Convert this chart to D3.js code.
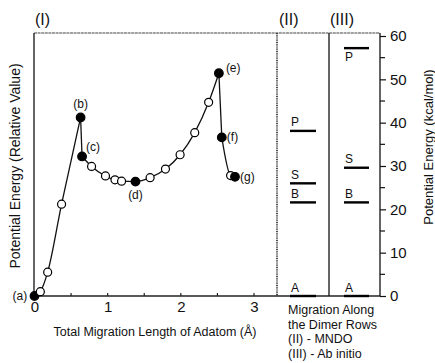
<!DOCTYPE html>
<html>
<head>
<meta charset="utf-8">
<script src="https://cdn.jsdelivr.net/npm/d3@7"></script>
<style>
  html, body { margin: 0; padding: 0; background: #fff; }
  svg { display: block; font-family: "Liberation Sans", Arial, Helvetica, sans-serif; }
</style>
</head>
<body>
<svg id="chart" width="435" height="363"></svg>
<script>
// Panel (I): energy profile along the total migration length of the adatom
const migX   = [0, 0.08, 0.18, 0.37, 0.63, 0.65, 0.78, 0.97, 1.10, 1.19, 1.38, 1.58, 1.79, 1.99, 2.19, 2.38, 2.52, 2.56, 2.68, 2.74];
const migE   = [0, 1.0, 5.5, 21.2, 41.2, 32.2, 29.9, 27.7, 26.8, 26.5, 26.4, 27.3, 29.3, 32.6, 37.7, 44.7, 51.4, 36.6, 27.8, 27.5];
const migKey = ["a", "", "", "", "b", "c", "", "", "", "", "d", "", "", "", "", "", "e", "f", "", "g"];
// Point index ranges joined by a single smooth stroke
const segments = [[0, 4], [4, 5], [5, 16], [16, 17], [17, 19]];

// Panels (II) MNDO and (III) ab initio: site energies (kcal/mol)
const siteNames = ["A", "B", "S", "P"];
const mndoE     = [0, 21.6, 26.0, 38.1];
const abInitioE = [0, 21.6, 29.6, 57.2];

const xTicks = [0, 1, 2, 3];
const yTicks = [0, 10, 20, 30, 40, 50, 60];

const svg = d3.select("#chart");
const frame = { left: 34, right: 380, top: 33, bottom: 296 };
const div1 = 277, div2 = 329;

const x = d3.scaleLinear().domain([0, 3]).range([34.5, 254]);
const y = d3.scaleLinear().domain([0, 60]).range([frame.bottom, 36]);

// Frame
svg.append("line").attr("x1", frame.left).attr("x2", frame.right).attr("y1", frame.top).attr("y2", frame.top)
  .attr("stroke", "#444").attr("stroke-width", 1.2).attr("stroke-dasharray", "3 0.6");
svg.append("line").attr("x1", frame.left).attr("x2", frame.left).attr("y1", frame.top).attr("y2", frame.bottom)
  .attr("stroke", "#111").attr("stroke-width", 1.3);
svg.append("line").attr("x1", frame.left).attr("x2", frame.right).attr("y1", frame.bottom).attr("y2", frame.bottom)
  .attr("stroke", "#222").attr("stroke-width", 1.3);
svg.append("line").attr("x1", div1).attr("x2", div1).attr("y1", frame.top).attr("y2", frame.bottom)
  .attr("stroke", "#222").attr("stroke-width", 1.6).attr("stroke-dasharray", "1 0.8");
svg.append("line").attr("x1", div2).attr("x2", div2).attr("y1", frame.top).attr("y2", frame.bottom)
  .attr("stroke", "#111").attr("stroke-width", 1.3);

// Bottom axis of panel (I)
const xAxis = d3.axisBottom(x).tickValues(xTicks).tickSize(0).tickPadding(5).tickFormat(d3.format("d"));
const gx = svg.append("g").attr("transform", `translate(0,${frame.bottom})`).call(xAxis);
gx.select(".domain").remove();
gx.selectAll("text").attr("font-size", 15).attr("fill", "#111");
svg.append("g").selectAll("line").data(d3.range(0.5, 3.01, 0.5)).join("line")
  .attr("x1", d => x(d)).attr("x2", d => x(d)).attr("y1", frame.bottom).attr("y2", frame.bottom - 3)
  .attr("stroke", "#222").attr("stroke-width", 1.2);

// Right energy axis
const yAxis = d3.axisRight(y).tickValues(yTicks).tickSize(6).tickPadding(4);
const gy = svg.append("g").attr("transform", `translate(${frame.right},0)`).call(yAxis);
gy.select(".domain").attr("d", `M0,${frame.top}V${frame.bottom}`).attr("stroke", "#111").attr("stroke-width", 1.3);
gy.selectAll(".tick line").attr("stroke", "#111").attr("stroke-width", 1.2);
gy.selectAll("text").attr("font-size", 15).attr("fill", "#111");
gy.append("g").selectAll("line").data(d3.range(5, 60, 10)).join("line")
  .attr("x1", 0).attr("x2", 5).attr("y1", d => y(d)).attr("y2", d => y(d))
  .attr("stroke", "#111").attr("stroke-width", 1.2);

// Energy curve
const line = d3.line().x(i => x(migX[i])).y(i => y(migE[i])).curve(d3.curveMonotoneX);
segments.forEach(([a, b]) => {
  svg.append("path").datum(d3.range(a, b + 1)).attr("d", line)
    .attr("fill", "none").attr("stroke", "#111").attr("stroke-width", 1.3);
});
svg.append("g").selectAll("circle").data(d3.range(migX.length)).join("circle")
  .attr("cx", i => x(migX[i])).attr("cy", i => y(migE[i]))
  .attr("r", i => migKey[i] ? 4.3 : 4)
  .attr("fill", i => migKey[i] ? "#000" : "#fff")
  .attr("stroke", "#000").attr("stroke-width", 1.2);

// Point labels
const labelOffset = { a: [-22, 4, "start"], b: [0, -9, "middle"], c: [4, -5, "start"], d: [0, 17, "middle"],
                      e: [7, -1, "start"], f: [5, 4, "start"], g: [5, 4, "start"] };
svg.append("g").selectAll("text").data(d3.range(migX.length).filter(i => migKey[i])).join("text")
  .attr("x", i => x(migX[i]) + labelOffset[migKey[i]][0])
  .attr("y", i => y(migE[i]) + labelOffset[migKey[i]][1])
  .attr("text-anchor", i => labelOffset[migKey[i]][2])
  .attr("font-size", 12).attr("fill", "#111")
  .text(i => `(${migKey[i]})`);

// Site levels for panels (II) and (III)
function levels(values, x0, x1, labelBelow) {
  const g = svg.append("g");
  g.selectAll("line").data(values).join("line")
    .attr("x1", x0).attr("x2", x1).attr("y1", d => y(d)).attr("y2", d => y(d))
    .attr("stroke", "#000").attr("stroke-width", 2.4);
  g.selectAll("text").data(values).join("text")
    .attr("x", x0 + 1)
    .attr("y", (d, i) => labelBelow(siteNames[i]) ? y(d) + 12.5 : y(d) - 4.5)
    .attr("font-size", 12).attr("fill", "#111")
    .text((d, i) => siteNames[i]);
}
levels(mndoE, 290, 316, () => false);
levels(abInitioE, 344, 369, s => s === "P");

// Panel headers
svg.append("text").attr("x", 35).attr("y", 25).attr("font-size", 16).attr("fill", "#111").text("(I)");
svg.append("text").attr("x", 279).attr("y", 25).attr("font-size", 16).attr("fill", "#111").text("(II)");
svg.append("text").attr("x", 330).attr("y", 25).attr("font-size", 16).attr("fill", "#111").text("(III)");

// Axis titles
svg.append("text").attr("x", 155).attr("y", 336).attr("text-anchor", "middle")
  .attr("font-size", 12.5).attr("fill", "#111").text("Total Migration Length of Adatom (Å)");
svg.append("text").attr("transform", "translate(20,166) rotate(-90)").attr("text-anchor", "middle")
  .attr("font-size", 14).attr("fill", "#111").text("Potential Energy (Relative Value)");
svg.append("text").attr("transform", "translate(433,147) rotate(-90)").attr("text-anchor", "middle")
  .attr("font-size", 13).attr("fill", "#111").text("Potential Energy (kcal/mol)");

// Caption for panels (II) and (III)
const caption = ["Migration Along", "the Dimer Rows", "(II) - MNDO", "(III) - Ab initio"];
svg.append("g").selectAll("text").data(caption).join("text")
  .attr("x", 288).attr("y", (d, i) => 314 + i * 14.5)
  .attr("font-size", 12.5).attr("fill", "#111").text(d => d);
</script>
</body>
</html>
